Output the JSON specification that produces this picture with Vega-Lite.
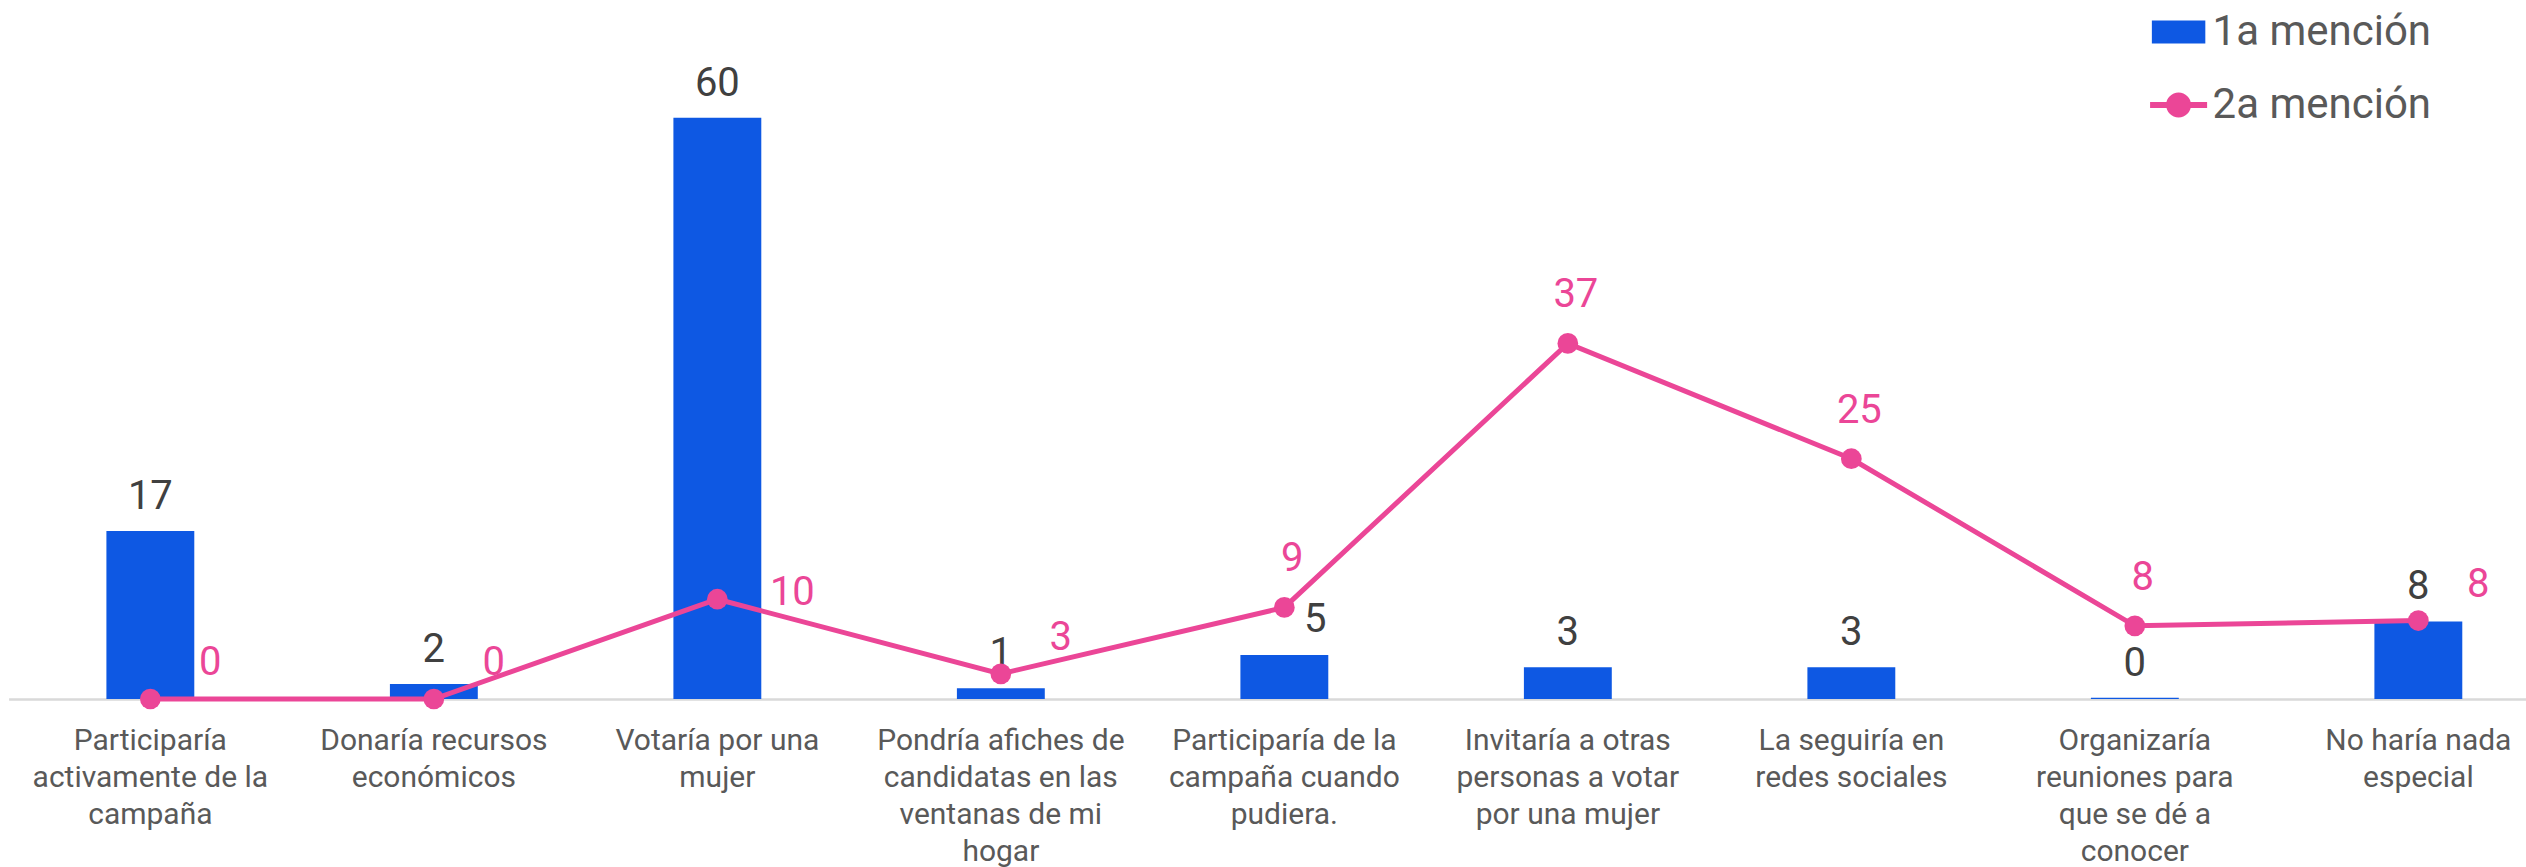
{
  "$schema": "https://vega.github.io/schema/vega-lite/v6.json",
  "autosize": "none",
  "width": 2518,
  "height": 699,
  "padding": {"left": 8.6, "top": 0, "right": 0, "bottom": 168},
  "background": "white",
  "config": {"view": {"stroke": null}, "font": "Roboto"},
  "data": {"values": [
    {"id": 1, "cat": "Participaría|activamente de la|campaña", "m1": 17.35, "m2": 0},
    {"id": 2, "cat": "Donaría recursos|económicos", "m1": 1.55, "m2": 0},
    {"id": 3, "cat": "Votaría por una|mujer", "m1": 60, "m2": 10.3},
    {"id": 4, "cat": "Pondría afiches de|candidatas en las|ventanas de mi|hogar", "m1": 1.1, "m2": 2.6},
    {"id": 5, "cat": "Participaría de la|campaña cuando|pudiera.", "m1": 4.55, "m2": 9.45},
    {"id": 6, "cat": "Invitaría a otras|personas a votar|por una mujer", "m1": 3.27, "m2": 36.7},
    {"id": 7, "cat": "La seguiría en|redes sociales", "m1": 3.27, "m2": 24.8},
    {"id": 8, "cat": "Organizaría|reuniones para|que se dé a|conocer", "m1": 0.12, "m2": 7.55},
    {"id": 9, "cat": "No haría nada|especial", "m1": 8.0, "m2": 8.1}
  ]},
  "encoding": {
    "x": {
      "field": "cat", "type": "nominal", "sort": null,
      "scale": {"range": [0, 2551.5], "paddingInner": 0.69, "paddingOuter": 0.345},
      "axis": {
        "title": null, "labelAngle": 0, "ticks": false,
        "domainColor": "#D9D9D9", "domainWidth": 2.5,
        "labelFont": "Roboto", "labelFontSize": 30, "labelColor": "#595959",
        "labelLineHeight": 37, "labelPadding": 27, "labelLimit": 0,
        "labelExpr": "split(datum.value, '|')"
      }
    }
  },
  "layer": [
    {
      "mark": {"type": "bar", "color": "#0E58E3"},
      "encoding": {
        "y": {"field": "m1", "type": "quantitative", "scale": {"domain": [0, 72.15], "nice": false, "zero": true}, "axis": null},
        "color": {
          "datum": "1a mención",
          "scale": {"domain": ["1a mención", "2a mención"], "range": ["#0E58E3", "#EB4697"]},
          "legend": {
            "orient": "none", "legendX": 2149, "legendY": 11, "title": null,
            "labelFont": "Roboto", "labelFontSize": 42, "labelColor": "#595959", "labelLimit": 0,
            "symbolSize": 1270, "labelOffset": 13, "rowPadding": 31,
            "encode": {"symbols": {"update": {
              "shape": {"signal": "datum.value === '1a mención' ? 'M-1.5,-0.65H1.5V0.65H-1.5Z' : 'M-1.6,-0.17H1.6V0.17H-1.6Z M-0.7,0A0.7,0.7 0 1,1 0.7,0A0.7,0.7 0 1,1 -0.7,0Z'"},
              "fill": {"scale": "color", "field": "value"},
              "strokeWidth": {"value": 0},
              "opacity": {"value": 1}
            }}}
          }
        }
      }
    },
    {
      "transform": [{"filter": "datum.id != 5"}],
      "mark": {"type": "text", "font": "Roboto", "fontSize": 40, "color": "#404040", "baseline": "alphabetic", "dy": -22},
      "encoding": {
        "y": {"field": "m1", "type": "quantitative", "scale": {"domain": [0, 72.15], "nice": false}, "axis": null},
        "text": {"field": "m1", "type": "quantitative", "format": ".0f"}
      }
    },
    {
      "transform": [{"filter": "datum.id == 5"}],
      "mark": {"type": "text", "font": "Roboto", "fontSize": 40, "color": "#404040", "baseline": "alphabetic", "dy": -23, "dx": 31},
      "encoding": {
        "y": {"field": "m1", "type": "quantitative", "scale": {"domain": [0, 72.15], "nice": false}, "axis": null},
        "text": {"field": "m1", "type": "quantitative", "format": ".0f"}
      }
    },
    {
      "mark": {"type": "line", "strokeWidth": 5, "point": {"filled": true, "size": 430, "opacity": 1}},
      "encoding": {
        "y": {"field": "m2", "type": "quantitative", "scale": {"domain": [0, 72.15], "nice": false}, "axis": null},
        "color": {"datum": "2a mención"}
      }
    },
    {
      "transform": [{"filter": "indexof([5,6,7,8], datum.id) >= 0"}],
      "mark": {"type": "text", "font": "Roboto", "fontSize": 40, "color": "#EB4697", "baseline": "alphabetic", "dy": -36, "dx": 8},
      "encoding": {
        "y": {"field": "m2", "type": "quantitative", "scale": {"domain": [0, 72.15], "nice": false}, "axis": null},
        "text": {"field": "m2", "type": "quantitative", "format": ".0f"}
      }
    },
    {
      "transform": [{"filter": "indexof([1,2,4,9], datum.id) >= 0"}],
      "mark": {"type": "text", "font": "Roboto", "fontSize": 40, "color": "#EB4697", "baseline": "alphabetic", "dy": -24, "dx": 60},
      "encoding": {
        "y": {"field": "m2", "type": "quantitative", "scale": {"domain": [0, 72.15], "nice": false}, "axis": null},
        "text": {"field": "m2", "type": "quantitative", "format": ".0f"}
      }
    },
    {
      "transform": [{"filter": "datum.id == 3"}],
      "mark": {"type": "text", "font": "Roboto", "fontSize": 40, "color": "#EB4697", "baseline": "middle", "dy": -6, "dx": 75},
      "encoding": {
        "y": {"field": "m2", "type": "quantitative", "scale": {"domain": [0, 72.15], "nice": false}, "axis": null},
        "text": {"field": "m2", "type": "quantitative", "format": ".0f"}
      }
    }
  ]
}
